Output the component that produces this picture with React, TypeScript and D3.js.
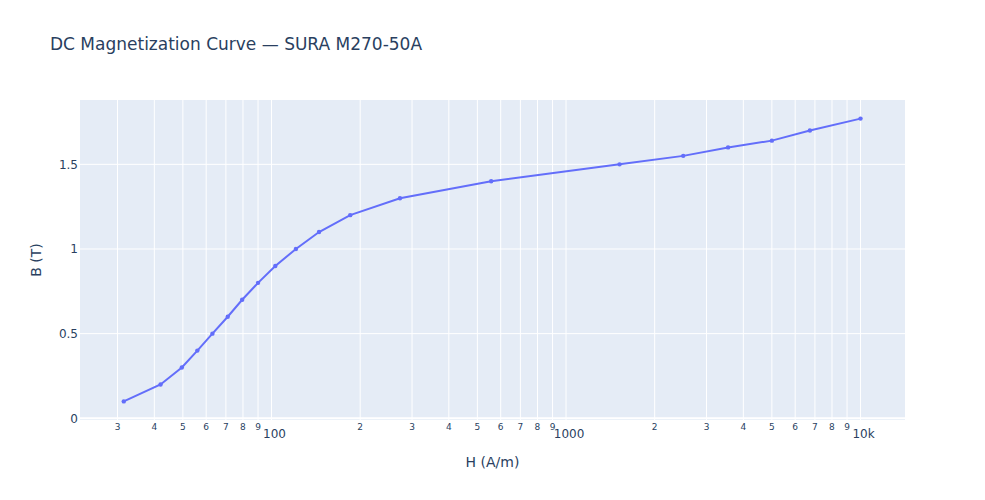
import React from 'react';
import * as d3 from 'd3';

// H (A/m) and B (T)
const hValues = [31.5, 42, 49.6, 56, 63, 71, 79.5, 90, 103, 121, 145, 185, 273, 557, 1520, 2500, 3550, 5000, 6730, 10000];
const bValues = [0.1, 0.2, 0.3, 0.4, 0.5, 0.6, 0.7, 0.8, 0.9, 1.0, 1.1, 1.2, 1.3, 1.4, 1.5, 1.55, 1.6, 1.64, 1.7, 1.77];

const yTicks = [0, 0.5, 1, 1.5];
const decades = [10, 100, 1000, 10000];
const majorLabels: Record<number, string> = { 100: '100', 1000: '1000', 10000: '10k' };

const W = 985;
const H = 500;
const margin = { top: 100, right: 80, bottom: 80, left: 80 };
const FONT = '"DejaVu Sans", verdana, arial, sans-serif';
const TEXT = '#2a3f5f';

export default function App() {
  const innerW = W - margin.left - margin.right;
  const innerH = H - margin.top - margin.bottom;

  const x = d3.scaleLog().domain([Math.pow(10, 1.3497), Math.pow(10, 4.151)]).range([0, innerW]);
  const y = d3.scaleLinear().domain([-0.01, 1.88]).range([innerH, 0]);

  const [xMin, xMax] = x.domain();
  const xTicks: { v: number; digit: number }[] = [];
  decades.forEach(d => {
    for (let k = 1; k <= 9; k++) {
      const v = d * k;
      if (v >= xMin && v <= xMax) xTicks.push({ v, digit: k });
    }
  });

  const points = hValues.map((h, i) => ({ h, b: bValues[i] }));
  const line = d3.line<{ h: number; b: number }>()
    .x(d => x(d.h))
    .y(d => y(d.b));

  return (
    <svg width={W} height={H} style={{ display: 'block', margin: -8, fontFamily: FONT }}>
      <rect x={0} y={0} width={W} height={H} fill="#fff" />
      <g transform={`translate(${margin.left},${margin.top})`}>
        <rect x={0} y={0} width={innerW} height={innerH} fill="#e5ecf6" />

        {/* vertical gridlines */}
        {xTicks.map(t => (
          <line key={'gx' + t.v} x1={x(t.v)} x2={x(t.v)} y1={0} y2={innerH} stroke="#fff" strokeWidth={1} />
        ))}
        {/* horizontal gridlines */}
        {yTicks.map(t => (
          <line key={'gy' + t} x1={0} x2={innerW} y1={y(t)} y2={y(t)} stroke="#fff" strokeWidth={t === 0 ? 2 : 1} />
        ))}

        <path d={line(points) || ''} fill="none" stroke="#636efa" strokeWidth={2} />
        {points.map((p, i) => (
          <circle key={i} cx={x(p.h)} cy={y(p.b)} r={2.2} fill="#636efa" />
        ))}

        {/* x tick labels */}
        {xTicks.map(t =>
          t.digit === 1 ? (
            <text key={'lx' + t.v} x={x(t.v) + 3} y={innerH + 18.3} textAnchor="middle" fontSize={12} fill={TEXT}>
              {majorLabels[t.v]}
            </text>
          ) : (
            <text key={'lx' + t.v} x={x(t.v)} y={innerH + 10} textAnchor="middle" fontSize={9} fill={TEXT}>
              {t.digit}
            </text>
          )
        )}

        {/* y tick labels */}
        {yTicks.map(t => (
          <text key={'ly' + t} x={-2} y={y(t)} dy="0.35em" textAnchor="end" fontSize={12} fill={TEXT}>
            {d3.format('~g')(t)}
          </text>
        ))}

        <text x={innerW / 2} y={innerH + 47.3} textAnchor="middle" fontSize={14} fill={TEXT}>
          H (A/m)
        </text>
        <text
          transform={`translate(${36 - margin.left},${innerH / 2}) rotate(-90)`}
          textAnchor="middle"
          dy="0.35em"
          fontSize={14}
          fill={TEXT}
        >
          B (T)
        </text>
      </g>
      <text x={50} y={50} fontSize={17} fill={TEXT}>
        DC Magnetization Curve — SURA M270-50A
      </text>
    </svg>
  );
}
